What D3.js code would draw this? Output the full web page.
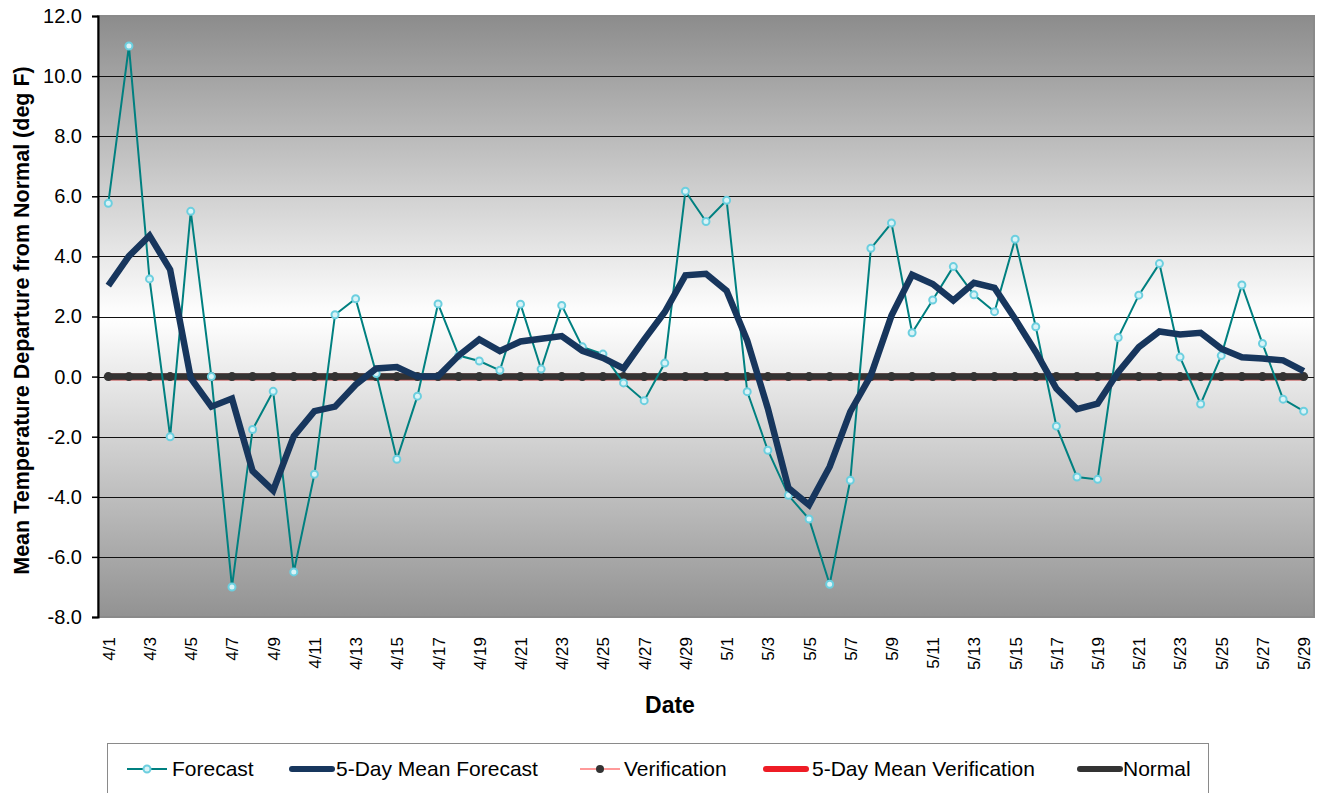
<!DOCTYPE html>
<html>
<head>
<meta charset="utf-8">
<script src="https://cdn.jsdelivr.net/npm/d3@7"></script>
<style>
  body { margin: 0; background: #fff; }
  text { font-family: "Liberation Sans", Arial, sans-serif; fill: #000; }
</style>
</head>
<body>
<div id="viz"></div>
<script>
// days shown on the category axis
const DATES = ['4/1','4/2','4/3','4/4','4/5','4/6','4/7','4/8','4/9','4/10',
  '4/11','4/12','4/13','4/14','4/15','4/16','4/17','4/18','4/19','4/20',
  '4/21','4/22','4/23','4/24','4/25','4/26','4/27','4/28','4/29','4/30',
  '5/1','5/2','5/3','5/4','5/5','5/6','5/7','5/8','5/9','5/10',
  '5/11','5/12','5/13','5/14','5/15','5/16','5/17','5/18','5/19','5/20',
  '5/21','5/22','5/23','5/24','5/25','5/26','5/27','5/28','5/29'];

const FORECAST = [5.77, 11.0, 3.25, -2.0, 5.5, 0.0, -7.0, -1.76, -0.49, -6.5,
  -3.25, 2.06, 2.59, 0.1, -2.75, -0.65, 2.42, 0.70, 0.52, 0.21,
  2.41, 0.25, 2.37, 0.99, 0.75, -0.21, -0.80, 0.45, 6.17, 5.16,
  5.87, -0.50, -2.45, -3.95, -4.74, -6.91, -3.45, 4.27, 5.11, 1.46,
  2.55, 3.66, 2.72, 2.16, 4.57, 1.66, -1.65, -3.34, -3.42, 1.30,
  2.71, 3.76, 0.65, -0.91, 0.70, 3.05, 1.10, -0.75, -1.15];

const MEAN_FORECAST = [3.03, 4.01, 4.69, 3.56, -0.05, -1.0, -0.73, -3.14, -3.79, -1.98,
  -1.15, -1.0, -0.27, 0.27, 0.32, 0.0, 0.01, 0.70, 1.24, 0.85,
  1.17, 1.26, 1.35, 0.86, 0.62, 0.27, 1.23, 2.15, 3.37, 3.42,
  2.86, 1.20, -1.06, -3.71, -4.27, -3.0, -1.17, 0.04, 2.03, 3.39,
  3.08, 2.53, 3.12, 2.95, 1.92, 0.82, -0.40, -1.08, -0.90, 0.15,
  0.98, 1.50, 1.40, 1.46, 0.93, 0.64, 0.60, 0.54, 0.18];

// verification not yet available -> plotted at zero
const VERIFICATION = DATES.map(() => 0);
const MEAN_VERIFICATION = DATES.map(() => 0);
const NORMAL = DATES.map(() => 0);

const Y_TICKS = [-8, -6, -4, -2, 0, 2, 4, 6, 8, 10, 12];
const X_LABELS = DATES.filter((d, i) => i % 2 === 0);

const W = 1319, H = 793;
const M = {left: 98, right: 1314, top: 16, bottom: 617};

const svg = d3.select('#viz').append('svg')
  .attr('width', W).attr('height', H);

const x = d3.scalePoint().domain(DATES).range([M.left, M.right]).padding(0.5);
const y = d3.scaleLinear().domain([-8, 12]).range([M.bottom, M.top]);

const defs = svg.append('defs');
const grad = defs.append('linearGradient').attr('id', 'bg')
  .attr('x1', 0).attr('y1', 0).attr('x2', 0).attr('y2', 1);
grad.append('stop').attr('offset', '0%').attr('stop-color', '#8c8c8c');
grad.append('stop').attr('offset', '50%').attr('stop-color', '#ffffff');
grad.append('stop').attr('offset', '100%').attr('stop-color', '#929292');

svg.append('rect')
  .attr('x', M.left).attr('y', M.top)
  .attr('width', M.right - M.left).attr('height', M.bottom - M.top)
  .attr('fill', 'url(#bg)')
  .attr('stroke', '#8a8a8a').attr('stroke-width', 2);

// gridlines
svg.append('g').selectAll('line')
  .data(Y_TICKS.filter(v => v > -8 && v < 12))
  .enter().append('line')
  .attr('x1', M.left).attr('x2', M.right)
  .attr('y1', d => Math.round(y(d)) + 0.5).attr('y2', d => Math.round(y(d)) + 0.5)
  .attr('stroke', '#111').attr('stroke-width', 1);

// y axis, plain hyphen for negatives like the original
const yAxis = svg.append('g')
  .attr('transform', `translate(${M.left},0)`)
  .call(d3.axisLeft(y).tickValues(Y_TICKS).tickFormat(d => d.toFixed(1))
    .tickSize(6).tickPadding(10));
yAxis.select('.domain').attr('stroke', '#000').attr('stroke-width', 2);
yAxis.selectAll('.tick line').attr('stroke', '#000').attr('stroke-width', 1.5);
yAxis.selectAll('text').attr('font-size', 20)
  .attr('font-family', '"Liberation Sans", Arial, sans-serif').attr('fill', '#000');

// x axis labels (rotated)
const xAxis = svg.append('g')
  .attr('transform', `translate(0,${M.bottom})`)
  .call(d3.axisBottom(x).tickValues(X_LABELS).tickSize(0).tickPadding(0));
xAxis.select('.domain').remove();
xAxis.selectAll('text')
  .attr('font-size', 17)
  .attr('font-family', '"Liberation Sans", Arial, sans-serif').attr('fill', '#000')
  .attr('text-anchor', 'end')
  .attr('dy', '0.35em')
  .attr('transform', 'translate(0,20) rotate(-90)')
  .attr('x', 0).attr('y', 0);

const line = d3.line().x((d, i) => x(DATES[i])).y(d => y(d));

// normal + verification
svg.append('path').datum(MEAN_VERIFICATION).attr('d', line)
  .attr('fill', 'none').attr('stroke', '#c04040').attr('stroke-width', 7)
  .attr('transform', 'translate(0,0.5)');
svg.append('path').datum(VERIFICATION).attr('d', line)
  .attr('fill', 'none').attr('stroke', '#ff9a9a').attr('stroke-width', 1);
svg.append('path').datum(NORMAL).attr('d', line)
  .attr('fill', 'none').attr('stroke', '#333333').attr('stroke-width', 6.5);
svg.append('g').selectAll('circle').data(VERIFICATION).enter().append('circle')
  .attr('cx', (d, i) => x(DATES[i])).attr('cy', d => y(d)).attr('r', 4.5)
  .attr('fill', '#333333');

// forecast
svg.append('path').datum(FORECAST).attr('d', line)
  .attr('fill', 'none').attr('stroke', '#008080').attr('stroke-width', 2);
svg.append('g').selectAll('circle').data(FORECAST).enter().append('circle')
  .attr('cx', (d, i) => x(DATES[i])).attr('cy', d => y(d)).attr('r', 3.5)
  .attr('fill', '#d9f3f7').attr('stroke', '#6ccfdf').attr('stroke-width', 2);

// 5-day mean forecast
svg.append('path').datum(MEAN_FORECAST).attr('d', line)
  .attr('fill', 'none').attr('stroke', '#17365d').attr('stroke-width', 6.5)
  .attr('stroke-linejoin', 'miter');

// titles
svg.append('text')
  .attr('transform', `translate(29,${(M.top + M.bottom) / 2 + 4}) rotate(-90)`)
  .attr('text-anchor', 'middle')
  .attr('font-size', 21.5).attr('font-weight', 'bold')
  .text('Mean Temperature Departure from Normal (deg F)');

svg.append('text')
  .attr('x', 670).attr('y', 713)
  .attr('text-anchor', 'middle')
  .attr('font-size', 23).attr('font-weight', 'bold')
  .text('Date');

// legend
const legend = svg.append('g');
legend.append('rect')
  .attr('x', 107.5).attr('y', 743.5).attr('width', 1101).attr('height', 60)
  .attr('fill', '#fff').attr('stroke', '#8a8a8a').attr('stroke-width', 1);

const LEGEND = [
  {name: 'Forecast', x: 127, tx: 172, color: '#008080', w: 2, marker: 'ring'},
  {name: '5-Day Mean Forecast', x: 292, tx: 336, color: '#17365d', w: 6},
  {name: 'Verification', x: 580, tx: 624, color: '#ff9a9a', w: 2, marker: 'dot'},
  {name: '5-Day Mean Verification', x: 766, tx: 812, color: '#ee1c25', w: 6},
  {name: 'Normal', x: 1080, tx: 1123, color: '#333333', w: 6}
];
const ly = 769;
LEGEND.forEach(d => {
  legend.append('line')
    .attr('x1', d.x).attr('x2', d.x + 40).attr('y1', ly).attr('y2', ly)
    .attr('stroke', d.color).attr('stroke-width', d.w)
    .attr('stroke-linecap', d.w > 2 ? 'round' : 'butt');
  if (d.marker === 'ring') {
    legend.append('circle').attr('cx', d.x + 20).attr('cy', ly).attr('r', 3.5)
      .attr('fill', '#d9f3f7').attr('stroke', '#6ccfdf').attr('stroke-width', 2);
  } else if (d.marker === 'dot') {
    legend.append('circle').attr('cx', d.x + 20).attr('cy', ly).attr('r', 4)
      .attr('fill', '#333333');
  }
  legend.append('text')
    .attr('x', d.tx).attr('y', 776)
    .attr('font-size', 21)
    .text(d.name);
});
</script>
</body>
</html>
